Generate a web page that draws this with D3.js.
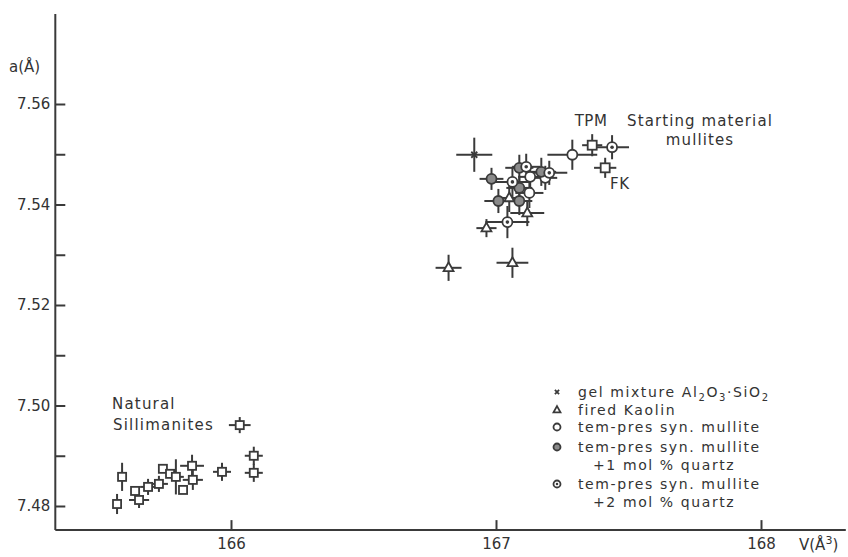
<!DOCTYPE html>
<html><head><meta charset="utf-8">
<script src="https://cdn.jsdelivr.net/npm/d3@7"></script>
<style>body{margin:0;background:#fff}svg{display:block}</style>
</head><body>
<svg id="c" width="848" height="557"></svg>
<script>
// ---- data ----
const xTicks = [166, 167, 168];
const xTickLabels = ["166", "167", "168"];
const yTicks = [7.48, 7.50, 7.52, 7.54, 7.56];
const yTickLabels = ["7.48", "7.50", "7.52", "7.54", "7.56"];
const yMinorTicks = [7.49, 7.51, 7.53, 7.55];
const xAxisExtent = [165.337, 168.32];
const yAxisExtent = [7.4752, 7.5779];

// mullite series: [V, a, errV, errA]
const gelMixture = [[166.918, 7.5499, 0.068, 0.0034]];
const firedKaolin = [
  [167.050, 7.5413, 0.056, 0.0028],
  [167.118, 7.5383, 0.064, 0.0026],
  [166.964, 7.5353, 0.038, 0.0018],
  [166.821, 7.5274, 0.049, 0.0026],
  [167.062, 7.5284, 0.060, 0.0030]
];
const temPres = [
  [167.288, 7.5499, 0.094, 0.0030],
  [167.129, 7.5455, 0.045, 0.0024],
  [167.186, 7.5453, 0.045, 0.0024],
  [167.126, 7.5423, 0.053, 0.0030]
];
const temPres1 = [
  [166.983, 7.5451, 0.045, 0.0022],
  [167.088, 7.5473, 0.053, 0.0026],
  [167.171, 7.5465, 0.056, 0.0028],
  [167.088, 7.5433, 0.049, 0.0024],
  [167.009, 7.5407, 0.053, 0.0024],
  [167.088, 7.5407, 0.049, 0.0028]
];
const temPres2 = [
  [167.438, 7.5514, 0.064, 0.0024],
  [167.062, 7.5445, 0.068, 0.0030],
  [167.114, 7.5475, 0.053, 0.0026],
  [167.201, 7.5463, 0.068, 0.0024],
  [167.043, 7.5365, 0.083, 0.0032]
];
const startingMaterial = [
  [167.363, 7.5518, 0.038, 0.0022],
  [167.412, 7.5473, 0.042, 0.0020]
];
// natural sillimanites: [V, a, errV, errA]
const sillimanites = [
  [165.570, 7.4804, 0, 0.0020],
  [165.589, 7.4858, 0, 0.0028],
  [165.638, 7.4830, 0, 0],
  [165.653, 7.4812, 0.038, 0.0016],
  [165.687, 7.4838, 0.030, 0.0016],
  [165.728, 7.4844, 0.034, 0.0016],
  [165.743, 7.4874, 0, 0],
  [165.770, 7.4864, 0, 0],
  [165.792, 7.4858, 0.030, 0.0035],
  [165.819, 7.4832, 0, 0],
  [165.853, 7.4880, 0.045, 0.0022],
  [165.856, 7.4852, 0.038, 0.0020],
  [165.966, 7.4868, 0.034, 0.0018],
  [166.086, 7.4900, 0.034, 0.0018],
  [166.086, 7.4866, 0.034, 0.0018],
  [166.033, 7.4961, 0.041, 0.0016]
];
const legendLabels = [
  ["gel mixture Al", "2", "O", "3", "·SiO", "2"],
  ["fired Kaolin"],
  ["tem-pres syn. mullite"],
  ["tem-pres syn. mullite", "+1 mol % quartz"],
  ["tem-pres syn. mullite", "+2 mol % quartz"]
];

// ---- drawing ----
const INK = "#3a3a3a";
const svg = d3.select("#c");
const x = d3.scaleLinear().domain([166, 168]).range([231, 761]);
const y = d3.scaleLinear().domain([7.48, 7.56]).range([506, 104]);
const font = "'DejaVu Sans', sans-serif";

// axis lines
svg.append("line").attr("x1", x(xAxisExtent[0])).attr("x2", x(xAxisExtent[0]))
  .attr("y1", y(yAxisExtent[1])).attr("y2", y(yAxisExtent[0]))
  .attr("stroke", INK).attr("stroke-width", 2);
svg.append("line").attr("x1", x(xAxisExtent[0])).attr("x2", x(xAxisExtent[1]))
  .attr("y1", y(yAxisExtent[0])).attr("y2", y(yAxisExtent[0]))
  .attr("stroke", INK).attr("stroke-width", 2);

const yAx = svg.append("g").attr("transform", `translate(${x(xAxisExtent[0])},0)`)
  .call(d3.axisLeft(y).tickValues(yTicks).tickSize(-10).tickPadding(5)
    .tickFormat((d, i) => yTickLabels[i]));
const yAxMinor = svg.append("g").attr("transform", `translate(${x(xAxisExtent[0])},0)`)
  .call(d3.axisLeft(y).tickValues(yMinorTicks).tickSize(-10).tickFormat(""));
const xAx = svg.append("g").attr("transform", `translate(0,${y(yAxisExtent[0])})`)
  .call(d3.axisBottom(x).tickValues(xTicks).tickSize(-10).tickPadding(8)
    .tickFormat((d, i) => xTickLabels[i]));
[yAx, yAxMinor, xAx].forEach(g => {
  g.select(".domain").remove();
  g.selectAll("line").attr("stroke", INK).attr("stroke-width", 2);
  g.selectAll("text").attr("fill", "#333").attr("font-family", font).attr("font-size", 15);
});

// axis titles
svg.append("text").attr("x", 9).attr("y", 72).attr("font-family", font).attr("font-size", 15)
  .attr("fill", "#333").text("a(Å)");
const vt = svg.append("text").attr("x", 799).attr("y", 550).attr("font-family", font)
  .attr("font-size", 15).attr("fill", "#333");
vt.append("tspan").text("V(Å");
vt.append("tspan").attr("dy", -6).attr("font-size", 11).text("3");
vt.append("tspan").attr("dy", 6).text(")");

// error bars
const allSeries = [gelMixture, firedKaolin, temPres, temPres1, temPres2, startingMaterial, sillimanites];
const eb = svg.append("g").attr("stroke", INK).attr("stroke-width", 2);
allSeries.forEach(s => s.forEach(d => {
  if (d[2] > 0) eb.append("line").attr("x1", x(d[0] - d[2])).attr("x2", x(d[0] + d[2]))
    .attr("y1", y(d[1])).attr("y2", y(d[1]));
  if (d[3] > 0) eb.append("line").attr("x1", x(d[0])).attr("x2", x(d[0]))
    .attr("y1", y(d[1] - d[3])).attr("y2", y(d[1] + d[3]));
}));

// marker drawing helpers
function drawMarker(g, type, cx, cy, s) {
  s = s || 1;
  if (type === "x") {
    g.append("path").attr("d", `M${cx-3*s},${cy-3*s}L${cx+3*s},${cy+3*s}M${cx-3*s},${cy+3*s}L${cx+3*s},${cy-3*s}`)
      .attr("stroke", INK).attr("stroke-width", 1.8);
  } else if (type === "tri") {
    const r = 5.5 * s;
    g.append("path").attr("d", `M${cx},${cy-r}L${cx+r*0.9},${cy+r*0.6}L${cx-r*0.9},${cy+r*0.6}Z`)
      .attr("fill", "#fff").attr("stroke", INK).attr("stroke-width", 1.8);
  } else if (type === "circ") {
    g.append("circle").attr("cx", cx).attr("cy", cy).attr("r", 5 * s)
      .attr("fill", "#fff").attr("stroke", INK).attr("stroke-width", 1.8);
  } else if (type === "circ1") {
    g.append("circle").attr("cx", cx).attr("cy", cy).attr("r", 5 * s)
      .attr("fill", "#8a8a8a").attr("stroke", INK).attr("stroke-width", 1.8);
  } else if (type === "circ2") {
    g.append("circle").attr("cx", cx).attr("cy", cy).attr("r", 5 * s)
      .attr("fill", "#fff").attr("stroke", INK).attr("stroke-width", 1.8);
    g.append("circle").attr("cx", cx).attr("cy", cy).attr("r", 1.8 * s).attr("fill", INK);
  } else if (type === "sq") {
    const h = 4.5 * s;
    g.append("rect").attr("x", cx - h).attr("y", cy - h).attr("width", 2 * h).attr("height", 2 * h)
      .attr("fill", "#fff").attr("stroke", INK).attr("stroke-width", 1.8);
  }
}
const mk = svg.append("g");
const seriesTypes = [[gelMixture, "x"], [firedKaolin, "tri"], [temPres, "circ"], [temPres1, "circ1"],
  [temPres2, "circ2"], [startingMaterial, "sq"], [sillimanites, "sq"]];
seriesTypes.forEach(([s, t]) => s.forEach(d => drawMarker(mk, t, x(d[0]), y(d[1]), t === "sq" && s === sillimanites ? 0.9 : 1)));

// annotations
function txt(xx, yy, t, anchor, ls, fs) {
  return svg.append("text").attr("x", xx).attr("y", yy).attr("font-family", font).attr("font-size", fs || 15)
    .attr("letter-spacing", ls === undefined ? 1.1 : ls)
    .attr("fill", "#333").attr("text-anchor", anchor || "start").text(t);
}
txt(591, 126, "TPM", "middle", 0.5);
txt(700, 126, "Starting material", "middle");
txt(700, 145, "mullites", "middle");
txt(610, 189, "FK", "start", 0.5);
txt(112, 409, "Natural", "start", 1.2);
txt(113, 430, "Sillimanites", "start", 1.2);

// legend
const lgX = 557, lgTX = 578;
const legendRows = [[397, "x"], [415, "tri"], [432, "circ"], [452, "circ1"], [489, "circ2"]];
legendRows.forEach(([ly, t], i) => {
  drawMarker(mk, t, lgX, ly - 5, 0.7);
  const lab = legendLabels[i];
  if (i === 0) {
    const te = txt(lgTX, ly, "", "start", 1.6, 14);
    te.append("tspan").text(lab[0]);
    te.append("tspan").attr("dy", 4).attr("font-size", 10).text(lab[1]);
    te.append("tspan").attr("dy", -4).text(lab[2]);
    te.append("tspan").attr("dy", 4).attr("font-size", 10).text(lab[3]);
    te.append("tspan").attr("dy", -4).text(lab[4]);
    te.append("tspan").attr("dy", 4).attr("font-size", 10).text(lab[5]);
  } else {
    txt(lgTX, ly, lab[0], "start", 1.6, 14);
    if (lab[1]) txt(lgTX + 15, ly + 18, lab[1], "start", 1.6, 14);
  }
});
</script>
</body></html>
